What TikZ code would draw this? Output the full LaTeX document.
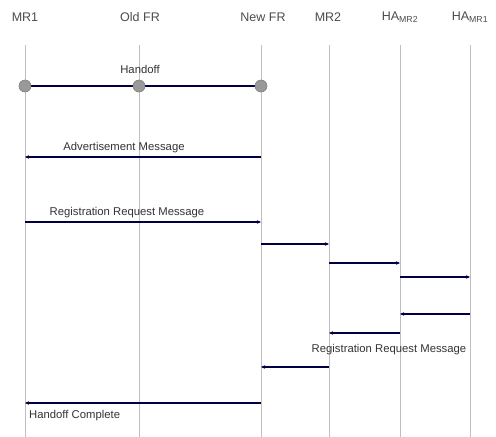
\documentclass[tikz,border=0pt]{standalone}
\usepackage{fontspec}
\setmainfont{Liberation Sans}
\usetikzlibrary{arrows.meta}
\begin{document}
\begin{tikzpicture}[x=1pt,y=-1pt,
  lifeline/.style={draw=black!25, line width=0.9pt},
  head/.style={text=black!70, font=\fontsize{12.5}{13}\selectfont, inner sep=0pt},
  lbl/.style={text=black!80, font=\fontsize{11.3}{12}\selectfont, inner sep=0pt},
  msg/.style={draw=black!75!blue, line width=1.1pt, -{Stealth[length=4pt,width=3.5pt]}},
  hand/.style={draw=black!75!blue, line width=1.1pt},
  dot/.style={circle, fill=black!40, draw=black!50, minimum size=12pt, inner sep=0pt}]
\useasboundingbox (0,0) rectangle (496,437);
\fill[white] (0,0) rectangle (496,437);
% heads
\node[head] (hmr1) at (25,17) {MR1};
\node[head] (hold) at (140,17) {Old FR};
\node[head] (hnew) at (263,17) {New FR};
\node[head] (hmr2) at (328,17) {MR2};
\node[head] (hha2) at (400,17) {HA\textsubscript{MR2}};
\node[head] (hha1) at (470,17) {HA\textsubscript{MR1}};
% lifelines
\foreach \n/\x in {mr1/25, old/139, new/261, mr2/329, haa/400, hab/470}{
  \coordinate (\n-top) at (\x,45);
  \coordinate (\n-bot) at (\x,437);
  \draw[lifeline] (\n-top) -- (\n-bot);
}
% handoff
\node[dot] (d1) at (25,86) {};
\node[dot] (d2) at (139,86) {};
\node[dot] (d3) at (261,86) {};
\draw[hand] (d1.center) -- (d2.center) -- (d3.center);
\node[dot] at (25,86) {};
\node[dot] at (139,86) {};
\node[dot] at (261,86) {};
\node[lbl] (lh) at (140,69) {Handoff};
% messages
\coordinate (a1) at (261,157); \coordinate (a2) at (25,157);
\draw[msg] (a1) -- (a2);
\node[lbl] (la) at (124,148) {Advertisement Message};
\coordinate (b1) at (25,222); \coordinate (b2) at (261,222);
\draw[msg] (b1) -- (b2);
\node[lbl] (lb) at (127,213) {Registration Request Message};
\coordinate (c1) at (261,244); \coordinate (c2) at (329,244);
\draw[msg] (c1) -- (c2);
\coordinate (e1) at (329,263); \coordinate (e2) at (400,263);
\draw[msg] (e1) -- (e2);
\coordinate (f1) at (400,277); \coordinate (f2) at (470,277);
\draw[msg] (f1) -- (f2);
\coordinate (g1) at (470,314); \coordinate (g2) at (400,314);
\draw[msg] (g1) -- (g2);
\coordinate (h1) at (400,333); \coordinate (h2) at (329,333);
\draw[msg] (h1) -- (h2);
\node[lbl] (lr) at (389,350) {Registration Request Message};
\coordinate (i1) at (329,367); \coordinate (i2) at (261,367);
\draw[msg] (i1) -- (i2);
\coordinate (j1) at (261,403); \coordinate (j2) at (25,403);
\draw[msg] (j1) -- (j2);
\node[lbl, anchor=west] (lc) at (29,416) {Handoff Complete};
\end{tikzpicture}
\end{document}
